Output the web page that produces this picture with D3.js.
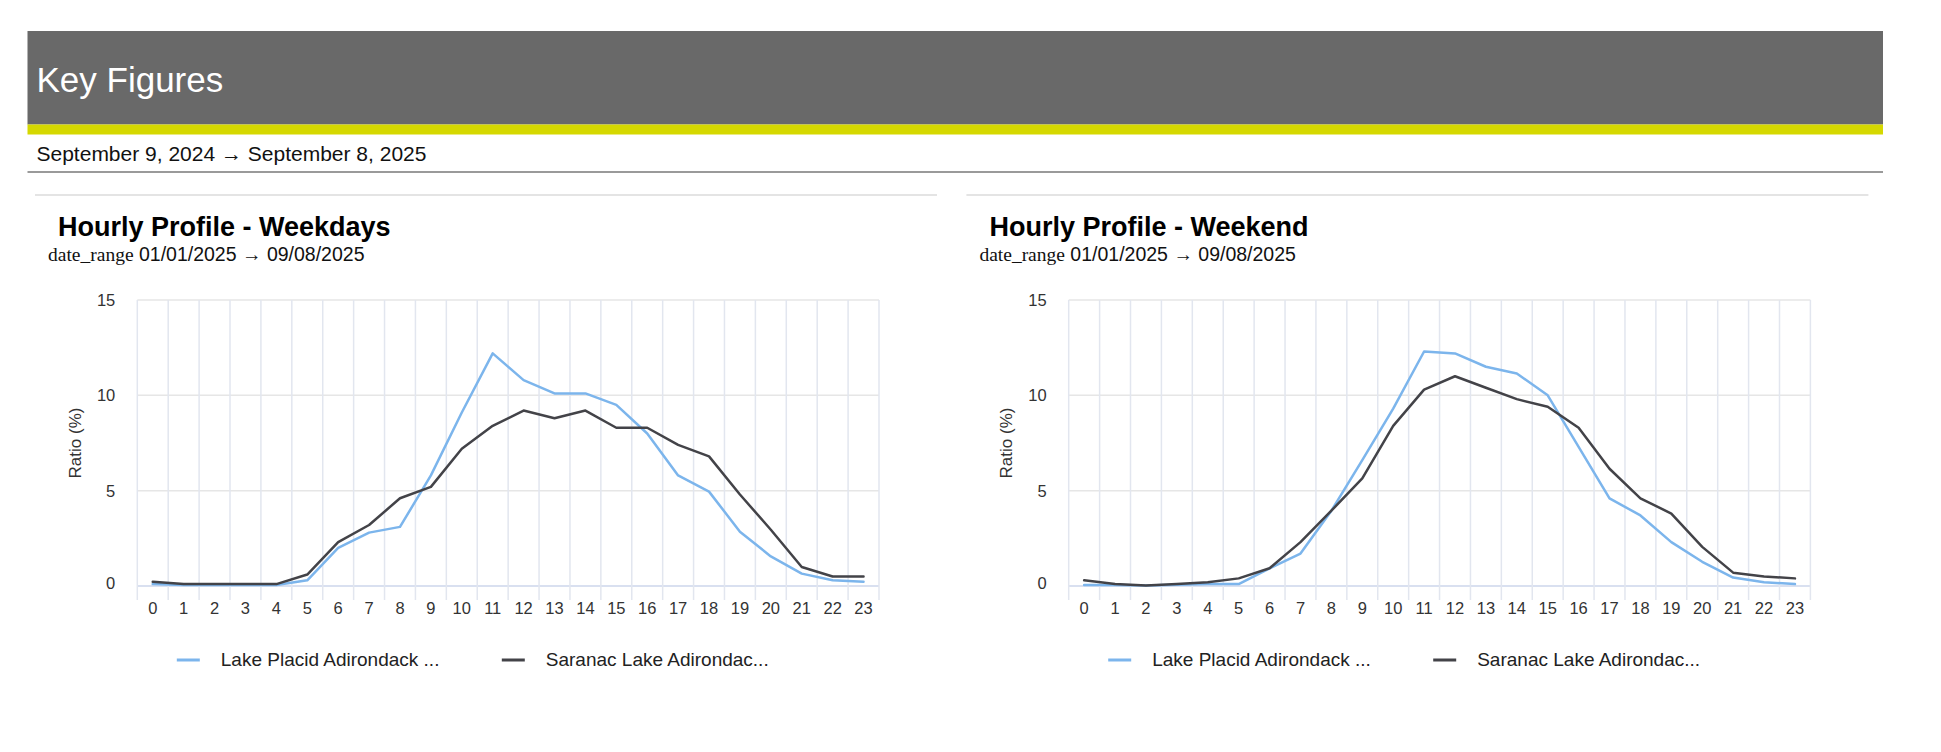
<!DOCTYPE html>
<html>
<head>
<meta charset="utf-8">
<script src="https://cdn.jsdelivr.net/npm/d3@7/dist/d3.min.js"></script>
<style>
  html, body { margin: 0; padding: 0; background: #fff; }
  svg { display: block; }
</style>
</head>
<body>
<svg id="chart" width="1941" height="752"></svg>
<script>
// ---------- DATA ----------
const hours = ["0","1","2","3","4","5","6","7","8","9","10","11","12","13","14","15","16","17","18","19","20","21","22","23"];
const yTicks = [0, 5, 10, 15];
const seriesNames = ["Lake Placid Adirondack ...", "Saranac Lake Adirondac..."];

const weekdayLakePlacid = [0.1,0.05,0.05,0.05,0.05,0.3,2.0,2.8,3.1,5.8,9.1,12.2,10.8,10.1,10.1,9.5,8.0,5.8,4.95,2.85,1.55,0.65,0.3,0.22];
const weekdaySaranac    = [0.22,0.1,0.1,0.1,0.1,0.6,2.3,3.2,4.6,5.2,7.2,8.4,9.2,8.8,9.2,8.3,8.3,7.4,6.8,4.8,2.95,1.0,0.5,0.5];

const weekendLakePlacid = [0.05,0.05,0.03,0.07,0.1,0.1,0.93,1.7,3.95,6.6,9.3,12.3,12.2,11.5,11.15,10.0,7.3,4.6,3.7,2.3,1.27,0.44,0.2,0.1];
const weekendSaranac    = [0.3,0.1,0.03,0.1,0.2,0.4,0.93,2.3,3.95,5.65,8.4,10.3,11.0,10.4,9.8,9.4,8.3,6.15,4.6,3.8,2.05,0.7,0.5,0.4];

const panels = [
  { title: "Hourly Profile - Weekdays", subtitleLabel: "date_range", subtitleDates: " 01/01/2025 \u2192 09/08/2025", series: [weekdayLakePlacid, weekdaySaranac] },
  { title: "Hourly Profile - Weekend",  subtitleLabel: "date_range", subtitleDates: " 01/01/2025 \u2192 09/08/2025", series: [weekendLakePlacid, weekendSaranac] }
];
const seriesColors = ["#7cb5ec", "#434348"];

// ---------- DRAW ----------
const svg = d3.select("#chart");
const sans = "'Liberation Sans', Arial, Helvetica, sans-serif";

// Header
svg.append("rect").attr("x", 27.5).attr("y", 31).attr("width", 1855.5).attr("height", 93.5).attr("fill", "#696969");
svg.append("rect").attr("x", 27.5).attr("y", 124.5).attr("width", 1855.5).attr("height", 10).attr("fill", "#d5d800");
svg.append("text").attr("x", 36.5).attr("y", 92)
  .attr("font-family", sans).attr("font-size", 35).attr("fill", "#fff")
  .text("Key Figures");
svg.append("text").attr("x", 36.5).attr("y", 161)
  .attr("font-family", sans).attr("font-size", 21).attr("fill", "#111")
  .text("September 9, 2024 \u2192 September 8, 2025");
svg.append("rect").attr("x", 27.5).attr("y", 171).attr("width", 1855.5).attr("height", 2).attr("fill", "#9a9a9a");

panels.forEach((p, pi) => {
  const off = pi * 931.4;
  const g = svg.append("g").attr("transform", `translate(${off},0)`);

  // panel top separator
  g.append("rect").attr("x", 35).attr("y", 194).attr("width", 902).attr("height", 2).attr("fill", "#e4e4e4");

  // title
  g.append("text").attr("x", 58).attr("y", 236)
    .attr("font-family", sans).attr("font-weight", "bold").attr("font-size", 27).attr("fill", "#000")
    .text(p.title);
  const st = g.append("text").attr("x", 48).attr("y", 261).attr("font-size", 19.5).attr("fill", "#111");
  st.append("tspan").attr("font-family", "'Liberation Serif', 'Times New Roman', serif").text(p.subtitleLabel);
  st.append("tspan").attr("font-family", sans).text(p.subtitleDates);

  const x = d3.scaleBand().domain(hours).range([137.3, 879]).paddingInner(0).paddingOuter(0);
  const y = d3.scaleLinear().domain([0, 15]).range([586, 300]);
  const [x0, x1] = x.range();

  // horizontal grid
  g.append("g").selectAll("line").data(yTicks).join("line")
    .attr("x1", x0).attr("x2", x1)
    .attr("y1", d => y(d)).attr("y2", d => y(d))
    .attr("stroke", d => d === 0 ? "#ccd6eb" : "#e6e6e6").attr("stroke-width", 1.5);

  // vertical grid at band boundaries (extending below axis as ticks)
  const bounds = hours.map(h => x(h)).concat([x1]);
  g.append("g").selectAll("line").data(bounds).join("line")
    .attr("x1", d => d).attr("x2", d => d)
    .attr("y1", y(15)).attr("y2", 600)
    .attr("stroke", "#e2e6ef").attr("stroke-width", 1.5);

  // y tick labels
  g.append("g").selectAll("text").data(yTicks).join("text")
    .attr("x", x0 - 22).attr("y", d => y(d) + (d === 0 ? -3 : 0))
    .attr("text-anchor", "end").attr("dominant-baseline", "central")
    .attr("font-family", sans).attr("font-size", 16.5).attr("fill", "#333")
    .text(d => d);

  // x tick labels
  g.append("g").selectAll("text").data(hours).join("text")
    .attr("x", d => x(d) + x.bandwidth() / 2).attr("y", 614)
    .attr("text-anchor", "middle")
    .attr("font-family", sans).attr("font-size", 16.5).attr("fill", "#333")
    .text(d => d);

  // y axis title
  g.append("text")
    .attr("transform", `translate(81,443) rotate(-90)`)
    .attr("text-anchor", "middle")
    .attr("font-family", sans).attr("font-size", 17).attr("fill", "#333")
    .text("Ratio (%)");

  // lines
  const line = d3.line()
    .x((d, i) => x(hours[i]) + x.bandwidth() / 2)
    .y(d => y(d));
  p.series.forEach((s, si) => {
    g.append("path").datum(s)
      .attr("d", line)
      .attr("fill", "none")
      .attr("stroke", seriesColors[si])
      .attr("stroke-width", 2.5)
      .attr("stroke-linejoin", "round")
      .attr("stroke-linecap", "round");
  });

  // legend
  const legendX = [x0 + 39.5, x0 + 364.5];
  seriesNames.forEach((name, si) => {
    g.append("line")
      .attr("x1", legendX[si]).attr("x2", legendX[si] + 23)
      .attr("y1", 660).attr("y2", 660)
      .attr("stroke", seriesColors[si]).attr("stroke-width", 3);
    g.append("text")
      .attr("x", legendX[si] + 44).attr("y", 659)
      .attr("dominant-baseline", "central")
      .attr("font-family", sans).attr("font-size", 19).attr("fill", "#222")
      .text(name);
  });
});
</script>
</body>
</html>
